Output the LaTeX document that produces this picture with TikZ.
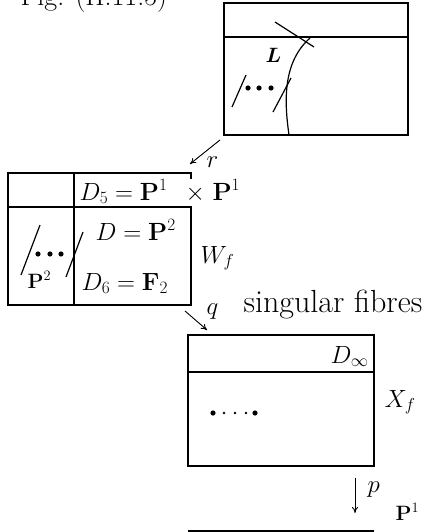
\documentclass[tikz,border=0pt]{standalone}
\usepackage{amsmath,bm}
\usetikzlibrary{arrows.meta}
\newcommand\fsz[1]{\fontsize{#1}{#1}\selectfont}
\begin{document}
\begin{tikzpicture}[x=1pt,y=-1pt,
  line width=1.2pt,
  lbl/.style={inner sep=0pt,anchor=base west,font=\fsz{25}},
  big/.style={inner sep=0pt,anchor=base west,font=\fsz{32}},
  map/.style={line width=0.9pt,-{To[length=6pt,width=6pt]}}]
\useasboundingbox (0,0) rectangle (428,532);
\clip (0,0) rectangle (428,532);
% title (cut at top)
\node[inner sep=0pt,anchor=base west,font=\fsz{28}] (title) at (20,6) {Fig. (II.11.5)};
% top box
\draw (224,3) rectangle (408,135);
\draw (224,37) -- (408,37);
\draw (289,135) .. controls (284,100) and (283,62) .. (310,38);
\draw (275,22) -- (314,47);
\draw (232,107) -- (246,75);
\draw (273,112) -- (291,78);
\foreach \x in {248,259,271} \fill (\x,88) circle (2.6);
\node[lbl,font=\fsz{22}] (L) at (265,63) {$\bm{L}$};
% arrow r
\coordinate (r1) at (220,140);
\coordinate (r2) at (190,164);
\draw[map] (r1) -- (r2);
\node[lbl,font=\fsz{30}] (r) at (206,167) {$r$};
% middle box
\draw (191,179) -- (191,173) -- (8,173) -- (8,305) -- (191,305) -- (191,207) -- (8,207);
\draw (74,173) -- (74,305);
\draw (21,275) -- (40,225);
\draw (66,277) -- (83,232);
\foreach \x in {38,50,61} \fill (\x,254) circle (2.6);
\node[lbl] (D5) at (79,200) {$D_5=\mathbf{P}^1$};
\node[lbl] (times) at (185,200) {$\times$};
\node[lbl] (D5b) at (212,200) {$\mathbf{P}^1$};
\node[lbl] (D) at (95,240) {$D=\mathbf{P}^2$};
\node[lbl] (D6) at (81,290) {$D_6=\mathbf{F}_2$};
\node[lbl,font=\fsz{22}] (P2) at (27,288) {$\mathbf{P}^2$};
\node[lbl,font=\fsz{26}] (Wf) at (200,263) {$W_f$};
% arrow q
\coordinate (q1) at (185,311);
\coordinate (q2) at (207,330);
\draw[map] (q1) -- (q2);
\node[lbl,font=\fsz{29}] (q) at (206,314) {$q$};
\node[big] (sing) at (243,312) {singular fibres};
% bottom box
\draw (188,335) rectangle (374,466);
\draw (188,372) -- (374,372);
\node[lbl,font=\fsz{24}] (Dinf) at (330,363) {$D_\infty$};
\node[lbl] (Xf) at (384,407) {$X_f$};
\fill (213,413) circle (2.6);
\fill (255,413) circle (2.6);
\foreach \x in {224,235,246} \fill (\x,413) circle (1.3);
% arrow p
\coordinate (p1) at (355,478);
\coordinate (p2) at (355,513);
\draw[map] (p1) -- (p2);
\node[lbl,font=\fsz{28}] (p) at (367,492) {$p$};
\node[lbl,font=\fsz{21}] (P1) at (395,520) {$\mathbf{P}^1$};
% base line
\coordinate (b1) at (188,531);
\coordinate (b2) at (374,531);
\draw[line width=1.6pt] (b1) -- (b2);
\end{tikzpicture}
\end{document}
